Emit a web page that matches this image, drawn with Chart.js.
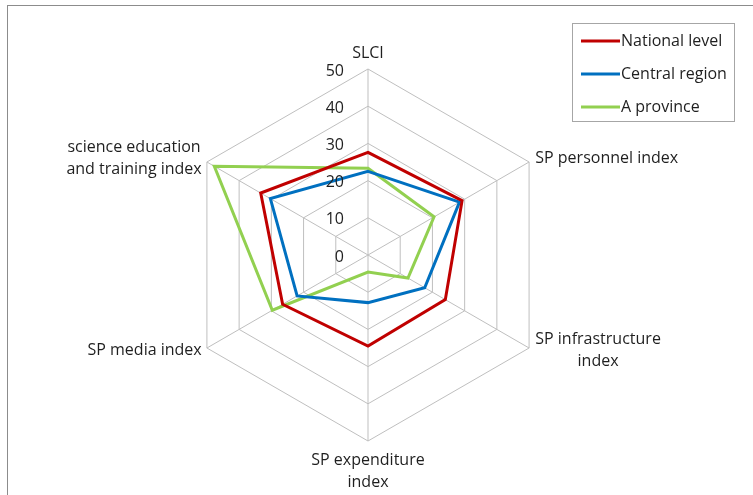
<!DOCTYPE html>
<html>
<head>
<meta charset="utf-8">
<script src="https://cdn.jsdelivr.net/npm/chart.js@4"></script>
<style>
  html, body { margin: 0; padding: 0; background: #fff; }
  #wrap { width: 753px; height: 495px; }
</style>
</head>
<body>
<div id="wrap"><canvas id="radar" width="753" height="495"></canvas></div>
<script>
"use strict";

// axis labels (one array per label = one line each)
const categories = [
    ['SLCI'],
    ['SP personnel index'],
    ['SP infrastructure', 'index'],
    ['SP expenditure', 'index'],
    ['SP media index'],
    ['science education', 'and training index']
];
const tickValues = [0, 10, 20, 30, 40, 50];

const nationalLevel = [27.6, 29.2, 24.0, 24.5, 26.5, 33.3];
const centralRegion = [22.5, 28.4, 17.6, 12.8, 22.0, 30.3];
const aProvince = [23.3, 20.5, 12.4, 4.6, 29.7, 47.7];

const FONT = '"Open Sans", "Liberation Sans", sans-serif';
const TEXT = '#1f1f1f';

// outer frame like the spreadsheet chart area
const framePlugin = {
    id: 'frame',
    beforeDraw(chart) {
        const ctx = chart.ctx;
        ctx.save();
        ctx.fillStyle = '#fff';
        ctx.fillRect(0, 0, chart.width, chart.height);
        ctx.strokeStyle = '#8c8c8c';
        ctx.lineWidth = 1;
        ctx.strokeRect(7.5, 5.5, chart.width + 20, chart.height + 20);
        ctx.restore();
    }
};

// tick numbers to the left of the vertical axis, point labels with centred lines, legend box
const labelsPlugin = {
    id: 'labels',
    afterDraw(chart) {
        const ctx = chart.ctx;
        const scale = chart.scales.r;
        ctx.save();
        ctx.fillStyle = TEXT;

        // ticks
        ctx.font = '16px ' + FONT;
        ctx.textAlign = 'right';
        ctx.textBaseline = 'middle';
        tickValues.forEach(v => {
            const d = scale.getDistanceFromCenterForValue(v);
            ctx.fillText(String(v), scale.xCenter - 24, scale.yCenter - d + 2);
        });

        // point labels
        ctx.font = '16px ' + FONT;
        const lineH = 22;
        chart.data.labels.forEach((lines, i) => {
            const p = scale.getPointPosition(i, scale.drawingArea + 6);
            const widths = lines.map(t => ctx.measureText(t).width);
            const blockW = Math.max(...widths);
            const blockH = lines.length * lineH;
            let cx, top;
            if (Math.abs(p.x - scale.xCenter) < 1) {
                cx = p.x;
                top = p.y < scale.yCenter ? p.y - blockH + 1 : p.y + 2;
            } else if (p.x > scale.xCenter) {
                cx = p.x + 1 + blockW / 2;
                top = p.y - blockH / 2 - 1;
            } else {
                cx = p.x - blockW / 2;
                top = p.y - blockH / 2 - 1;
            }
            ctx.textAlign = 'center';
            lines.forEach((t, k) => {
                ctx.fillText(t, cx, top + lineH * k + lineH / 2);
            });
        });

        // legend
        ctx.strokeStyle = '#a6a6a6';
        ctx.lineWidth = 1;
        ctx.strokeRect(572.5, 23.5, 162, 98);
        ctx.font = '16px ' + FONT;
        ctx.textAlign = 'left';
        chart.data.datasets.forEach((ds, k) => {
            const y = 41 + k * 33;
            ctx.strokeStyle = ds.borderColor;
            ctx.lineWidth = 3;
            ctx.beginPath();
            ctx.moveTo(581, y);
            ctx.lineTo(620, y);
            ctx.stroke();
            ctx.fillStyle = TEXT;
            ctx.fillText(ds.label, 621, y);
        });
        ctx.restore();
    }
};

const ctx = document.getElementById('radar').getContext('2d');
new Chart(ctx, {
    type: 'radar',
    data: {
        labels: categories,
        datasets: [
            { label: 'National level', data: nationalLevel, borderColor: '#c00000' },
            { label: 'Central region', data: centralRegion, borderColor: '#0070c0' },
            { label: 'A province', data: aProvince, borderColor: '#92d050' }
        ].map(ds => Object.assign(ds, {
            borderWidth: 3,
            fill: false,
            pointRadius: 0,
            pointHoverRadius: 0,
            tension: 0,
            borderJoinStyle: 'miter'
        }))
    },
    options: {
        responsive: false,
        animation: false,
        events: [],
        layout: { padding: { left: 158, right: 175, top: 69, bottom: 53 } },
        plugins: {
            legend: { display: false },
            tooltip: { enabled: false }
        },
        scales: {
            r: {
                min: 0,
                max: 50,
                ticks: { display: false, stepSize: 10 },
                pointLabels: { display: false },
                grid: { color: '#bfbfbf', lineWidth: 1 },
                angleLines: { color: '#bfbfbf', lineWidth: 1 }
            }
        }
    },
    plugins: [framePlugin, labelsPlugin]
});
</script>
</body>
</html>
